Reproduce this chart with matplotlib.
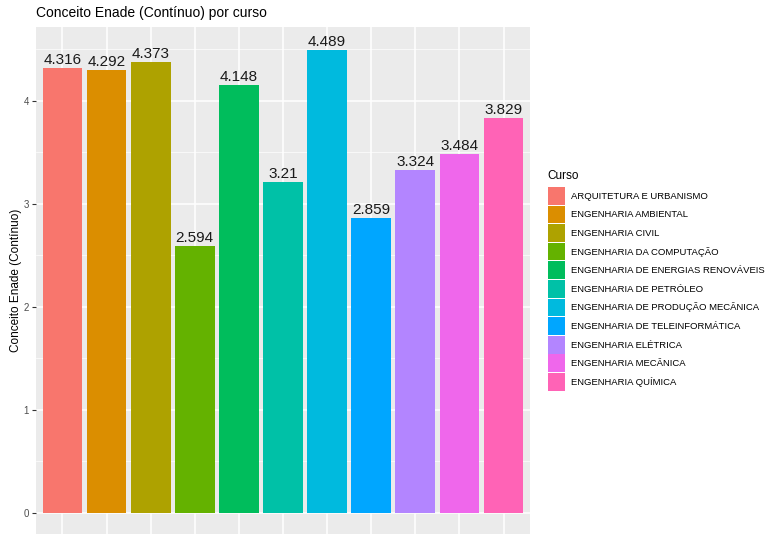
import matplotlib
matplotlib.use("Agg")
import matplotlib.pyplot as plt
from matplotlib.patches import Patch

# Dados do gráfico
cursos = [
    "ARQUITETURA E URBANISMO",
    "ENGENHARIA AMBIENTAL",
    "ENGENHARIA CIVIL",
    "ENGENHARIA DA COMPUTAÇÃO",
    "ENGENHARIA DE ENERGIAS RENOVÁVEIS",
    "ENGENHARIA DE PETRÓLEO",
    "ENGENHARIA DE PRODUÇÃO MECÂNICA",
    "ENGENHARIA DE TELEINFORMÁTICA",
    "ENGENHARIA ELÉTRICA",
    "ENGENHARIA MECÂNICA",
    "ENGENHARIA QUÍMICA",
]
conceito = [4.316, 4.292, 4.373, 2.594, 4.148, 3.21, 4.489, 2.859, 3.324, 3.484, 3.829]
rotulos = ["4.316", "4.292", "4.373", "2.594", "4.148", "3.21", "4.489", "2.859", "3.324", "3.484", "3.829"]

# paleta padrão do ggplot (hue_pal) para 11 níveis
cores = ["#F8766D", "#DB8E00", "#AEA200", "#64B200", "#00BD5C", "#00C1A7",
         "#00BADE", "#00A6FF", "#B385FF", "#EF67EB", "#FF63B6"]

plt.rcParams["font.family"] = ["Liberation Sans", "DejaVu Sans"]

W, H = 771, 534
fig = plt.figure(figsize=(W / 100, H / 100), dpi=100)
ax = fig.add_axes([36 / W, 0, (530 - 36) / W, (534 - 27) / H])

x = list(range(len(cursos)))
ax.bar(x, conceito, width=0.9, color=cores, zorder=3)
for xi, v, r in zip(x, conceito, rotulos):
    ax.text(xi, v + 0.01, r, ha="center", va="bottom", fontsize=11, color="#1a1a1a", zorder=4)

ax.set_xlim(-0.6, len(cursos) - 0.4)
ax.set_ylim(-0.203, 4.713)

# tema cinza estilo ggplot
ax.set_facecolor("#EBEBEB")
for s in ax.spines.values():
    s.set_visible(False)
ax.set_xticks(x)
ax.set_xticklabels([])
ax.tick_params(axis="x", length=0)
ax.set_yticks([0, 1, 2, 3, 4])
ax.set_yticks([0.5, 1.5, 2.5, 3.5, 4.5], minor=True)
ax.tick_params(axis="y", which="major", length=3, width=0.8, color="#333333",
               labelsize=7, labelcolor="#4D4D4D", pad=2)
ax.tick_params(axis="y", which="minor", length=0)
ax.grid(which="major", color="white", linewidth=1.1, zorder=0)
ax.grid(which="minor", axis="y", color="white", linewidth=0.5, zorder=0)
ax.set_axisbelow(True)

ax.set_ylabel("Conceito Enade (Contínuo)", fontsize=8.5, color="black", labelpad=1)
fig.text(36 / W, 1 - 13 / H, "Conceito Enade (Contínuo) por curso", fontsize=10,
         ha="left", va="center")

# legenda
fig.text(547 / W, 1 - 176 / H, "Curso", fontsize=8.5, ha="left", va="center")
handles = [Patch(facecolor=c, edgecolor="none") for c in cores]
leg = fig.legend(handles, cursos, loc="upper left",
                 bbox_to_anchor=(548 / W, 1 - 187 / H), frameon=False,
                 fontsize=6.8, handlelength=1.85, handleheight=2.5, labelspacing=0.1,
                 handletextpad=0.55, borderpad=0, borderaxespad=0)

fig.savefig("out.png", dpi=100)
